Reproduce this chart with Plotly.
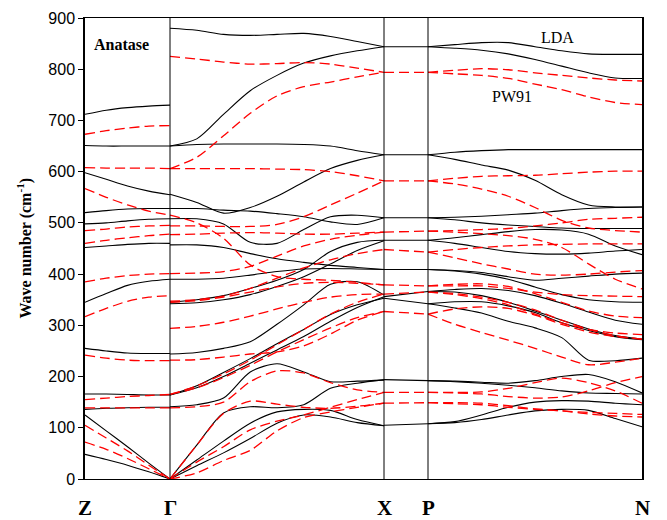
import numpy as np
import plotly.graph_objects as go

# k-path nodes (path distance) and labels
path_nodes = [0, 85, 299, 343, 557]
path_labels = ["Z", "Γ", "X", "P", "N"]
y_ticks = [0, 100, 200, 300, 400, 500, 600, 700, 800, 900]

# ---- Z-Gamma (5 samples) ----
lda_zg = [
    [712, 720, 725, 728, 730],
    [651, 650, 650, 650, 650],
    [598, 585, 572, 562, 555],
    [520, 524, 527, 528, 528],
    [498, 500, 504, 507, 508],
    [452, 455, 458, 460, 460],
    [345, 362, 378, 386, 390],
    [255, 250, 246, 245, 245],
    [166, 166, 165, 164, 164],
    [136, 138, 139, 140, 140],
    [125, 94, 63, 31, 0],
    [48, 38, 27, 14, 0],
]
pw91_zg = [
    [673, 680, 685, 689, 690],
    [608, 607, 607, 607, 606],
    [567, 550, 535, 523, 515],
    [485, 488, 492, 494, 495],
    [460, 466, 471, 475, 478],
    [385, 392, 397, 400, 401],
    [317, 333, 347, 355, 358],
    [242, 236, 232, 231, 231],
    [155, 158, 161, 163, 165],
    [139, 139, 139, 139, 139],
    [105, 80, 55, 27, 0],
    [72, 58, 40, 20, 0],
]

# ---- Gamma-X (9 samples) ----
lda_gx = [
    [880, 876, 868, 866, 868, 870, 864, 854, 844],
    [650, 664, 712, 758, 788, 812, 826, 836, 844],
    [650, 653, 654, 654, 654, 653, 650, 641, 633],
    [556, 540, 519, 530, 552, 580, 606, 622, 633],
    [528, 528, 525, 523, 518, 512, 502, 497, 510],
    [508, 508, 498, 462, 460, 487, 512, 515, 510],
    [457, 457, 452, 440, 430, 423, 417, 413, 409],
    [390, 390, 392, 398, 405, 410, 411, 410, 409],
    [345, 350, 358, 372, 388, 409, 444, 462, 466],
    [342, 344, 350, 360, 376, 395, 420, 446, 465],
    [244, 247, 255, 268, 302, 340, 380, 385, 359],
    [164, 182, 208, 235, 264, 292, 321, 340, 353],
    [164, 178, 200, 226, 252, 278, 308, 335, 356],
    [141, 145, 158, 209, 225, 209, 190, 191, 193],
    [0, 66, 129, 141, 139, 145, 177, 187, 194],
    [0, 37, 74, 109, 131, 136, 134, 116, 104],
    [0, 26, 51, 79, 109, 125, 121, 110, 104],
]
pw91_gx = [
    [825, 820, 814, 810, 811, 813, 810, 802, 794],
    [606, 628, 670, 714, 748, 766, 775, 785, 794],
    [606, 606, 606, 606, 605, 604, 600, 592, 582],
    [494, 494, 493, 493, 497, 512, 535, 558, 582],
    [515, 500, 470, 418, 395, 390, 388, 384, 379],
    [477, 478, 480, 481, 480, 478, 478, 480, 482],
    [401, 402, 405, 415, 435, 455, 468, 476, 482],
    [347, 350, 357, 372, 392, 412, 428, 440, 448],
    [345, 348, 355, 365, 375, 382, 384, 382, 379],
    [294, 298, 306, 318, 332, 345, 355, 360, 361],
    [232, 233, 238, 244, 248, 260, 283, 310, 327],
    [165, 182, 205, 232, 262, 292, 322, 345, 361],
    [165, 178, 198, 222, 248, 272, 295, 315, 327],
    [139, 141, 150, 190, 211, 207, 188, 174, 169],
    [0, 66, 128, 152, 146, 140, 138, 142, 148],
    [0, 33, 63, 96, 113, 125, 140, 155, 169],
    [0, 12, 36, 56, 94, 120, 131, 140, 148],
]

# ---- X-P (2 samples) ----
lda_xp = [[844, 844], [633, 633], [510, 510], [466, 466], [409, 409],
          [356, 366], [353, 342], [194, 192], [105, 108]]
pw91_xp = [[794, 794], [582, 582], [482, 484], [448, 443], [379, 377],
           [361, 365], [327, 322], [169, 169], [148, 149]]

# ---- P-N (9 samples) ----
lda_pn = [
    [844, 848, 852, 852, 844, 836, 830, 829, 829],
    [844, 841, 837, 830, 819, 806, 793, 783, 782],
    [633, 638, 641, 643, 643, 643, 643, 643, 643],
    [633, 624, 613, 603, 583, 555, 535, 531, 531],
    [510, 511, 513, 516, 519, 524, 528, 530, 531],
    [510, 506, 500, 496, 493, 490, 489, 489, 489],
    [466, 471, 477, 483, 487, 486, 478, 455, 438],
    [466, 460, 452, 444, 440, 439, 441, 445, 448],
    [409, 407, 403, 395, 388, 392, 396, 400, 402],
    [409, 406, 400, 390, 375, 360, 350, 346, 345],
    [366, 370, 372, 368, 358, 343, 326, 310, 302],
    [366, 365, 358, 345, 328, 310, 293, 280, 273],
    [342, 346, 346, 338, 325, 305, 290, 278, 272],
    [342, 334, 324, 308, 295, 276, 232, 231, 236],
    [192, 191, 189, 187, 192, 200, 204, 190, 168],
    [192, 190, 187, 183, 178, 172, 168, 167, 166],
    [108, 112, 125, 140, 150, 153, 152, 148, 145],
    [108, 110, 116, 125, 133, 136, 134, 118, 102],
]
pw91_pn = [
    [794, 798, 801, 799, 793, 788, 783, 779, 777],
    [794, 791, 788, 782, 771, 760, 746, 735, 731],
    [582, 587, 591, 592, 593, 596, 599, 601, 601],
    [582, 576, 566, 552, 530, 505, 490, 485, 482],
    [484, 485, 487, 489, 494, 500, 507, 509, 511],
    [484, 482, 479, 475, 468, 452, 420, 390, 371],
    [443, 448, 452, 455, 457, 458, 459, 459, 459],
    [443, 432, 420, 410, 400, 398, 400, 404, 407],
    [377, 377, 377, 372, 365, 360, 358, 357, 356],
    [377, 380, 381, 376, 362, 345, 328, 318, 315],
    [365, 362, 355, 345, 330, 310, 292, 280, 273],
    [365, 360, 352, 340, 322, 305, 292, 285, 282],
    [322, 332, 336, 333, 320, 302, 287, 278, 273],
    [322, 302, 286, 271, 255, 238, 223, 228, 236],
    [169, 169, 170, 177, 188, 197, 188, 172, 148],
    [169, 168, 166, 161, 158, 160, 172, 188, 200],
    [149, 149, 148, 143, 137, 133, 130, 128, 126],
    [149, 147, 145, 140, 136, 133, 127, 123, 121],
]

segments = [
    (0, 1, lda_zg, pw91_zg),
    (1, 2, lda_gx, pw91_gx),
    (2, 3, lda_xp, pw91_xp),
    (3, 4, lda_pn, pw91_pn),
]

fig = go.Figure()

def add_branches(branches, a, b, color, width, dash):
    for br in branches:
        xs = np.linspace(path_nodes[a], path_nodes[b], len(br))
        shape = "spline" if len(br) > 2 else "linear"
        fig.add_trace(go.Scatter(
            x=xs, y=br, mode="lines", showlegend=False, hoverinfo="skip",
            line=dict(color=color, width=width, dash=dash, shape=shape, smoothing=0.8),
        ))

for a, b, lda, pw in segments:
    add_branches(lda, a, b, "black", 1.1, "solid")
for a, b, lda, pw in segments:
    add_branches(pw, a, b, "rgb(255,0,0)", 1.3, "10px,5px")

shapes = []
for xv in path_nodes[1:4]:
    shapes.append(dict(type="line", xref="x", yref="paper", x0=xv, x1=xv, y0=0, y1=1,
                       line=dict(color="black", width=1)))

annotations = []
for xv, lab in zip(path_nodes, path_labels):
    annotations.append(dict(x=xv, y=0, xref="x", yref="paper", text="<b>%s</b>" % lab,
                            showarrow=False, yanchor="middle", yshift=-29,
                            font=dict(family="Liberation Serif", size=21, color="black")))
annotations.append(dict(x=36.5, y=849, xref="x", yref="y", text="<b>Anatase</b>",
                        showarrow=False, font=dict(family="Liberation Serif", size=16, color="black")))
annotations.append(dict(x=472.5, y=861, xref="x", yref="y", text="LDA",
                        showarrow=False, font=dict(family="Liberation Serif", size=16, color="black")))
annotations.append(dict(x=427, y=746, xref="x", yref="y", text="PW91",
                        showarrow=False, font=dict(family="Liberation Serif", size=16, color="black")))
annotations.append(dict(x=-0.1077, y=0.5, xref="paper", yref="paper",
                        text="<b>Wave number (cm<sup>-1</sup>)</b>", textangle=-90,
                        showarrow=False, xanchor="center", yanchor="middle",
                        font=dict(family="Liberation Serif", size=16, color="black")))

fig.update_layout(
    width=667, height=520,
    margin=dict(l=85, r=25, t=10, b=41),
    paper_bgcolor="white", plot_bgcolor="white",
    shapes=shapes, annotations=annotations,
    xaxis=dict(range=[0, 557], showgrid=False, zeroline=False, showline=True,
               linecolor="black", linewidth=1, mirror=True, showticklabels=False, ticks=""),
    yaxis=dict(range=[0, 900], tickvals=y_ticks, ticks="outside", ticklen=5,
               tickcolor="black", showline=True, linecolor="black", linewidth=1.5,
               mirror=True, showgrid=False, zeroline=False,
               tickfont=dict(family="Liberation Sans", size=16, color="black")),
)

fig.write_html("out.html")
